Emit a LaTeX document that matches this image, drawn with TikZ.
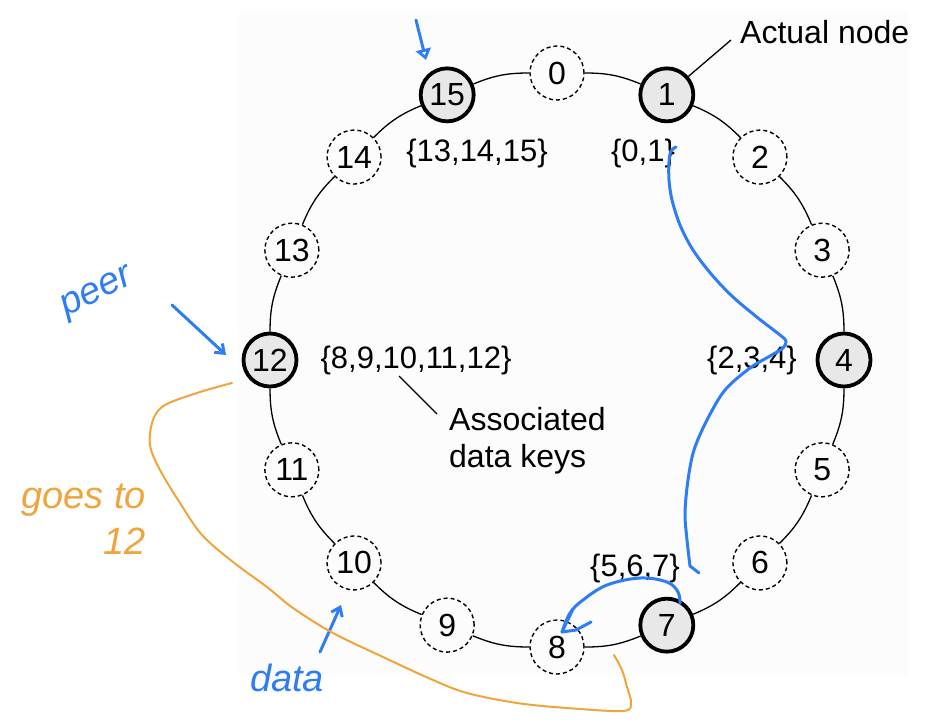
\documentclass[tikz,border=0pt]{standalone}
\usepackage{fontspec}
\setmainfont{Liberation Sans}
\usetikzlibrary{arrows.meta,calc}
\definecolor{bgc}{HTML}{FDFCFC}
\definecolor{nodegray}{HTML}{E8E8E8}
\definecolor{penblue}{HTML}{2F7DF4}
\definecolor{penorange}{HTML}{F1A43B}
\begin{document}
\begin{tikzpicture}[x=1pt,y=-1pt,
  actual/.style={circle,draw,line width=3.8pt,fill=nodegray,minimum size=53pt,inner sep=0pt,font=\fontsize{32}{36}\selectfont},
  virtual/.style={circle,draw,line width=1.4pt,dash pattern=on 4pt off 3pt,fill=bgc,minimum size=54pt,inner sep=0pt,font=\fontsize{32}{36}\selectfont},
  ringline/.style={line width=1.3pt},
  keylabel/.style={font=\fontsize{31}{36}\selectfont,inner sep=0pt},
  note/.style={font=\fontsize{32}{37}\selectfont,inner sep=0pt},
  leader/.style={line width=1.3pt},
  bluepen/.style={penblue,line width=3pt,line cap=round,line join=round},
  orangepen/.style={penorange,line width=2pt,line cap=round,line join=round},
  hand/.style={font=\fontsize{38}{46}\selectfont\itshape,inner sep=0pt},
]
\useasboundingbox (0,0) rectangle (934,726);
\fill[bgc] (239,12) rectangle (908,675);

% ring nodes
\foreach \k in {0,2,3,5,6,8,9,10,11,13,14}
  \node[virtual] (n\k) at ({557+287*sin(22.5*\k)},{360-287*cos(22.5*\k)}) {\k};
\foreach \k in {1,4,7,12,15}
  \node[actual] (n\k) at ({557+287*sin(22.5*\k)},{360-287*cos(22.5*\k)}) {\k};

% ring arcs
\foreach \k in {0,...,15}{
  \pgfmathtruncatemacro{\j}{mod(\k+1,16)}
  \draw[ringline] (n\k) to[bend left=11.25] (n\j);
}

% key labels
\node[keylabel] (k1) at (643,153) {\{0,1\}};
\node[keylabel] (k4) at (752,360) {\{2,3,4\}};
\node[keylabel] (k7) at (635,568) {\{5,6,7\}};
\node[keylabel] (k12) at (416,360) {\{8,9,10,11,12\}};
\node[keylabel] (k15) at (477,153) {\{13,14,15\}};

% notes
\node[note,anchor=west] (actual) at (740,32) {Actual node};
\coordinate (actualend) at (731,40);
\draw[leader] (n1) -- (actualend);

\node[note,anchor=west,align=left] (assoc) at (449,441) {Associated\\data keys};
\coordinate (assocA) at (399,376);
\coordinate (assocB) at (437,414);
\draw[leader] (assocA) -- (assocB);

% handwritten annotations
\node[hand,penblue,rotate=26] (peer) at (98,294) {peer};
\coordinate (peerA) at (172,305);
\coordinate (peerB) at (226,355);
\draw[bluepen,-{Straight Barb[length=8pt,width=12pt]}] (peerA) -- (peerB);

\node[hand,penblue] (data) at (287,678) {data};
\coordinate (dataA) at (320,652);
\coordinate (dataB) at (341,605);
\draw[bluepen,-{Straight Barb[length=8pt,width=12pt]}] (dataA) -- (dataB);

\node[hand,penorange,align=right,anchor=north east] (goes) at (146,484) {goes to\\12};

\coordinate (topA) at (416,20);
\coordinate (topB) at (426,60);
\draw[bluepen,-{Triangle[open,length=11pt,width=15pt]}] (topA) -- (topB);

% blue curve from {0,1} to 7
\draw[bluepen] plot[smooth,tension=0.55] coordinates {(676,147) (671,151) (669,162) (669,180) (672,200) (680,225) (693,250) (712,275) (733,297) (758,318) (780,335) (786,341) (783,348) (770,356) (750,368) (725,390) (707,420) (694,450) (688,480) (685,513) (687,540) (690,566)};
\draw[bluepen] (690,566) -- (699,573);

% blue curve from 7 to 8
\draw[bluepen] plot[smooth,tension=0.6] coordinates {(680,603) (678,592) (667,582) (640,578) (607,585) (583,600) (570,613) (562,632)};
\draw[bluepen] (573,609) -- (562,632) -- (576,630) -- (591,622);

% orange curve from 12
\draw[orangepen] plot[smooth,tension=0.55] coordinates {(232,383) (200,392) (165,405) (153,420) (150,445) (160,470) (180,503) (202,535) (233,562) (267,587) (293,608) (333,633) (383,657) (433,680) (467,693) (517,703) (567,708) (623,711) (631,703) (627,687) (622,670) (614,655)};
\end{tikzpicture}
\end{document}
